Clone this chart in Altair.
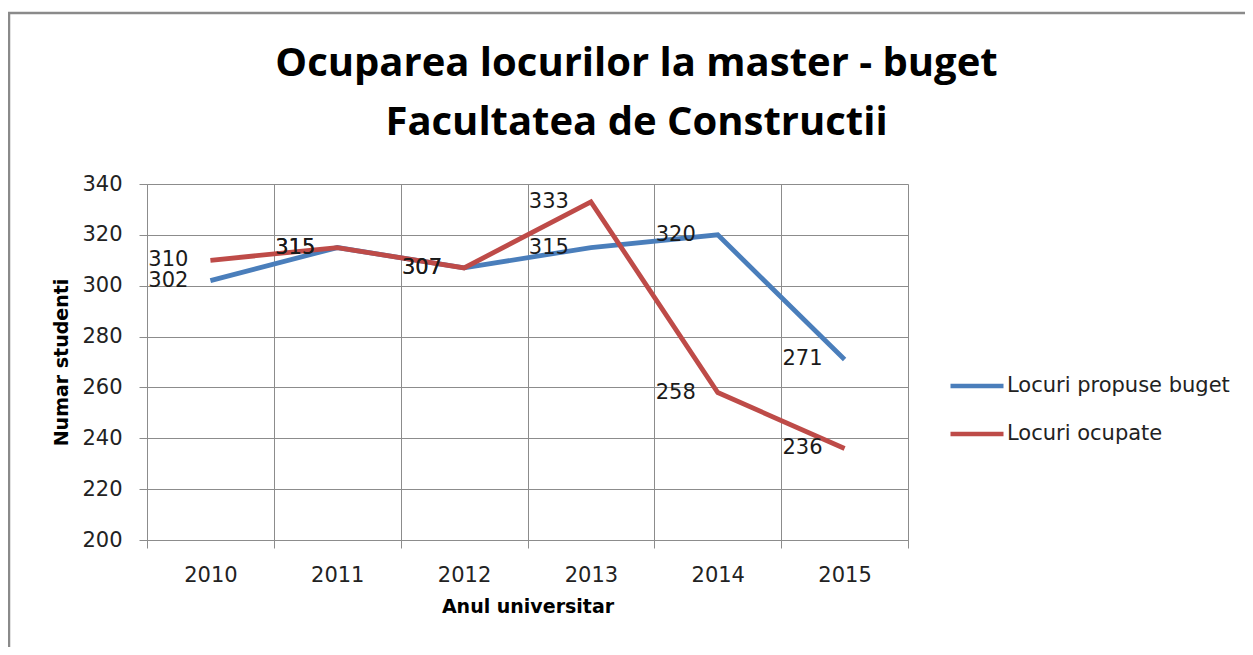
import altair as alt
import pandas as pd

years = ["2010", "2011", "2012", "2013", "2014", "2015"]
propuse = [302, 315, 307, 315, 320, 271]
ocupate = [310, 315, 307, 333, 258, 236]
series_names = ["Locuri propuse buget", "Locuri ocupate"]
series_colors = ["#4a7ebb", "#be4b48"]
y_ticks = [200, 220, 240, 260, 280, 300, 320, 340]

rows = []
for name, vals in zip(series_names, [propuse, ocupate]):
    for yr, v in zip(years, vals):
        rows.append({"An": yr, "Valoare": v, "Serie": name})
df = pd.DataFrame(rows)

FONT = "DejaVu Sans"
TFONT = "Open Sans"
GRID = "#8c8c8c"

x_enc = alt.X(
    "An:O",
    sort=years,
    scale=alt.Scale(paddingInner=0, paddingOuter=0),
    axis=alt.Axis(
        title="Anul universitar",
        labelAngle=0,
        tickBand="extent",
        grid=True,
        gridColor=GRID,
        tickColor=GRID,
        domainColor=GRID,
        tickSize=8,
        labelPadding=16,
        labelFontSize=21,
        labelFont=FONT,
        labelColor="#222222",
        titleFont=FONT,
        titleFontSize=19,
        titleFontWeight="bold",
        titleColor="#000000",
        titlePadding=12,
    ),
)
y_enc = alt.Y(
    "Valoare:Q",
    scale=alt.Scale(domain=[200, 340], nice=False, zero=False),
    axis=alt.Axis(
        title="Numar studenti",
        values=y_ticks,
        grid=True,
        gridColor=GRID,
        tickColor=GRID,
        domainColor=GRID,
        tickSize=8,
        labelPadding=17,
        labelFontSize=21,
        labelFont=FONT,
        labelColor="#222222",
        titleFont=FONT,
        titleFontSize=19,
        titleFontWeight="bold",
        titleColor="#000000",
        titlePadding=10,
    ),
)

base = alt.Chart(df)

lines = base.mark_line(strokeWidth=4.8).encode(
    x=x_enc,
    y=y_enc,
    color=alt.Color(
        "Serie:N",
        scale=alt.Scale(domain=series_names, range=series_colors),
        sort=series_names,
        legend=alt.Legend(
            title=None,
            orient="none",
            legendX=801,
            legendY=173,
            symbolType="stroke",
            symbolSize=2809,
            symbolStrokeWidth=4.5,
            labelFont=FONT,
            labelFontSize=21,
            labelColor="#222222",
            labelOffset=1,
            rowPadding=9,
            padding=0,
            labelLimit=400,
        ),
    ),
)

labels = base.mark_text(
    align="right", baseline="middle", dx=-22, font=FONT, fontSize=21, color="#1a1a1a"
).encode(x=alt.X("An:O", sort=years), y="Valoare:Q", text="Valoare:Q")

frame = alt.Chart(pd.DataFrame({"k": [0]})).mark_rect(
    fill="transparent", stroke="#8a8a8a", strokeWidth=2.5
).encode(
    x=alt.value(-138), x2=alt.value(1120), y=alt.value(-171), y2=alt.value(520)
)

chart = (
    alt.layer(frame, lines, labels)
    .properties(
        width=761,
        height=356,
        padding={"left": 139, "top": 176, "right": 337, "bottom": 107},
        autosize=alt.AutoSizeParams(type="none"),
        title=alt.TitleParams(
            text=["Ocuparea locurilor la master - buget", "Facultatea de Constructii"],
            font=TFONT,
            fontSize=40,
            fontWeight="bold",
            lineHeight=59,
            anchor="middle",
            dx=109,
            offset=-131,
            color="#000000",
        ),
    )
    .configure_view(stroke=GRID, strokeWidth=1)
    .configure(background="white")
)

chart.save("out.html", embed_options={"renderer": "svg", "actions": False})
